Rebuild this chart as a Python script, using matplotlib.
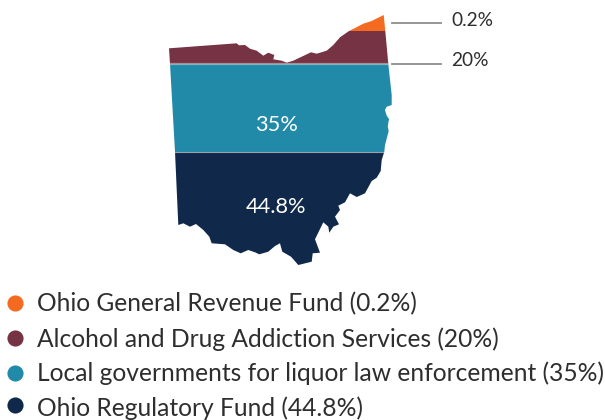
import numpy as np
import matplotlib
matplotlib.use("Agg")
import matplotlib.pyplot as plt
from matplotlib.patches import Polygon

plt.rcParams['font.family'] = ['Lato', 'DejaVu Sans']

# Liquor revenue split, top band to bottom band of the state map
funds = ["Ohio General Revenue Fund", "Alcohol and Drug Addiction Services",
         "Local governments for liquor law enforcement", "Ohio Regulatory Fund"]
shares = [0.2, 20, 35, 44.8]
share_labels = ["0.2%", "20%", "35%", "44.8%"]
colors = ["#F56A21", "#763344", "#218AA8", "#10294A"]

# State outline, clockwise from the north-west corner
outline_x = [169, 236.7, 239, 245, 250, 256.7, 263.3, 268.3, 274.3, 273.3, 281.7, 286.7, 293.3,
             301.7, 311, 316.7, 326.7, 333.3, 340, 349, 355, 363.3, 371.7, 383.7, 385.3, 388.3,
             391.7, 391.7, 386.7, 385, 386.7, 389, 387.7, 388.7, 385, 384.3, 381.7, 380.7, 376.7,
             371.7, 365, 356.7, 350, 345, 338.3, 340, 335, 339, 333.3, 329.3, 328.3, 323.3, 315,
             320, 312.7, 311.7, 298.3, 291, 282.3, 280.7, 280, 275, 268.3, 259.3, 255, 248.3,
             240.7, 233.3, 225, 211.7, 209.3, 203.3, 196, 190, 183.3, 178.3, 175, 170]
outline_y = [48.3, 43.3, 45.3, 45, 48.7, 50.7, 55.7, 52.7, 55, 59.3, 60.7, 62.7, 60.7,
             56.7, 52.3, 53.7, 50.7, 45, 37.3, 31, 28, 23.7, 21, 15, 31, 64,
             95, 105, 106.7, 110, 115.7, 119, 126.7, 131, 145, 151.7, 160, 171, 177.7,
             181, 193.3, 197, 193.3, 202.3, 205.7, 210, 216.7, 224.3, 226.7, 232.7, 226.7, 222.3, 239.3,
             252.7, 253.3, 261.7, 265, 256.7, 251.7, 246, 243.3, 246, 251.7, 254.3, 252.3, 250,
             253.3, 250, 244.3, 243.3, 236.7, 230, 224, 226.7, 223.3, 225, 151.7, 64]

px = np.array(outline_x)
py = np.array(outline_y)

fig = plt.figure(figsize=(6.05, 4.2), dpi=100)
ax = fig.add_axes([0, 0, 1, 1])
ax.set_xlim(0, 605)
ax.set_ylim(420, 0)
ax.axis("off")

# Band heights follow the shares; the smallest keeps a legible minimum height
px_per_pct = 2.52
min_band = 16
bottom = py.max()
top = py.min()
edges = [top, top + min_band, bottom - px_per_pct * (shares[2] + shares[3]),
         bottom - px_per_pct * shares[3], bottom]

shape = Polygon(np.column_stack([px, py]), closed=True, transform=ax.transData, fc="none", ec="none")
ax.add_patch(shape)
for i, c in enumerate(colors):
    band = ax.fill_between([160, 400], edges[i], edges[i + 1], color=c, lw=0)
    band.set_clip_path(shape)
for e, lw, a in zip(edges[2:4], [1.6, 0.8], [0.55, 0.7]):
    cut = ax.plot([160, 400], [e, e], color="#D5D5DA", lw=lw, alpha=a)[0]
    cut.set_clip_path(shape)

# Leader lines and values for the two upper bands
leader_y = [23, 64]
label_y = [20.5, 60.5]
for ly, ty, s in zip(leader_y, label_y, share_labels[:2]):
    ax.plot([392, 441], [ly, ly], color="#8C8C8C", lw=1.3)
    ax.text(451, ty, s, fontsize=13.8, color="#2E2E2E", va="center", ha="left")

# Values inside the two lower bands
ax.text(276.5, 125, share_labels[2], fontsize=15.7, color="white", ha="center", va="center")
ax.text(275.5, 207, share_labels[3], fontsize=15.7, color="white", ha="center", va="center")

# Key below the map
key_y = [302.5, 337.5, 372.5, 404.5]
text_y = [304, 339, 373, 408]
for f, s, c, ky, ty in zip(funds, share_labels, colors, key_y, text_y):
    ax.scatter([15], [ky], s=135, color=c, lw=0)
    ax.text(37, ty, f"{f} ({s})", fontsize=17.7, color="#2E2E2E", va="center", ha="left")

fig.savefig("out.png", dpi=100)
